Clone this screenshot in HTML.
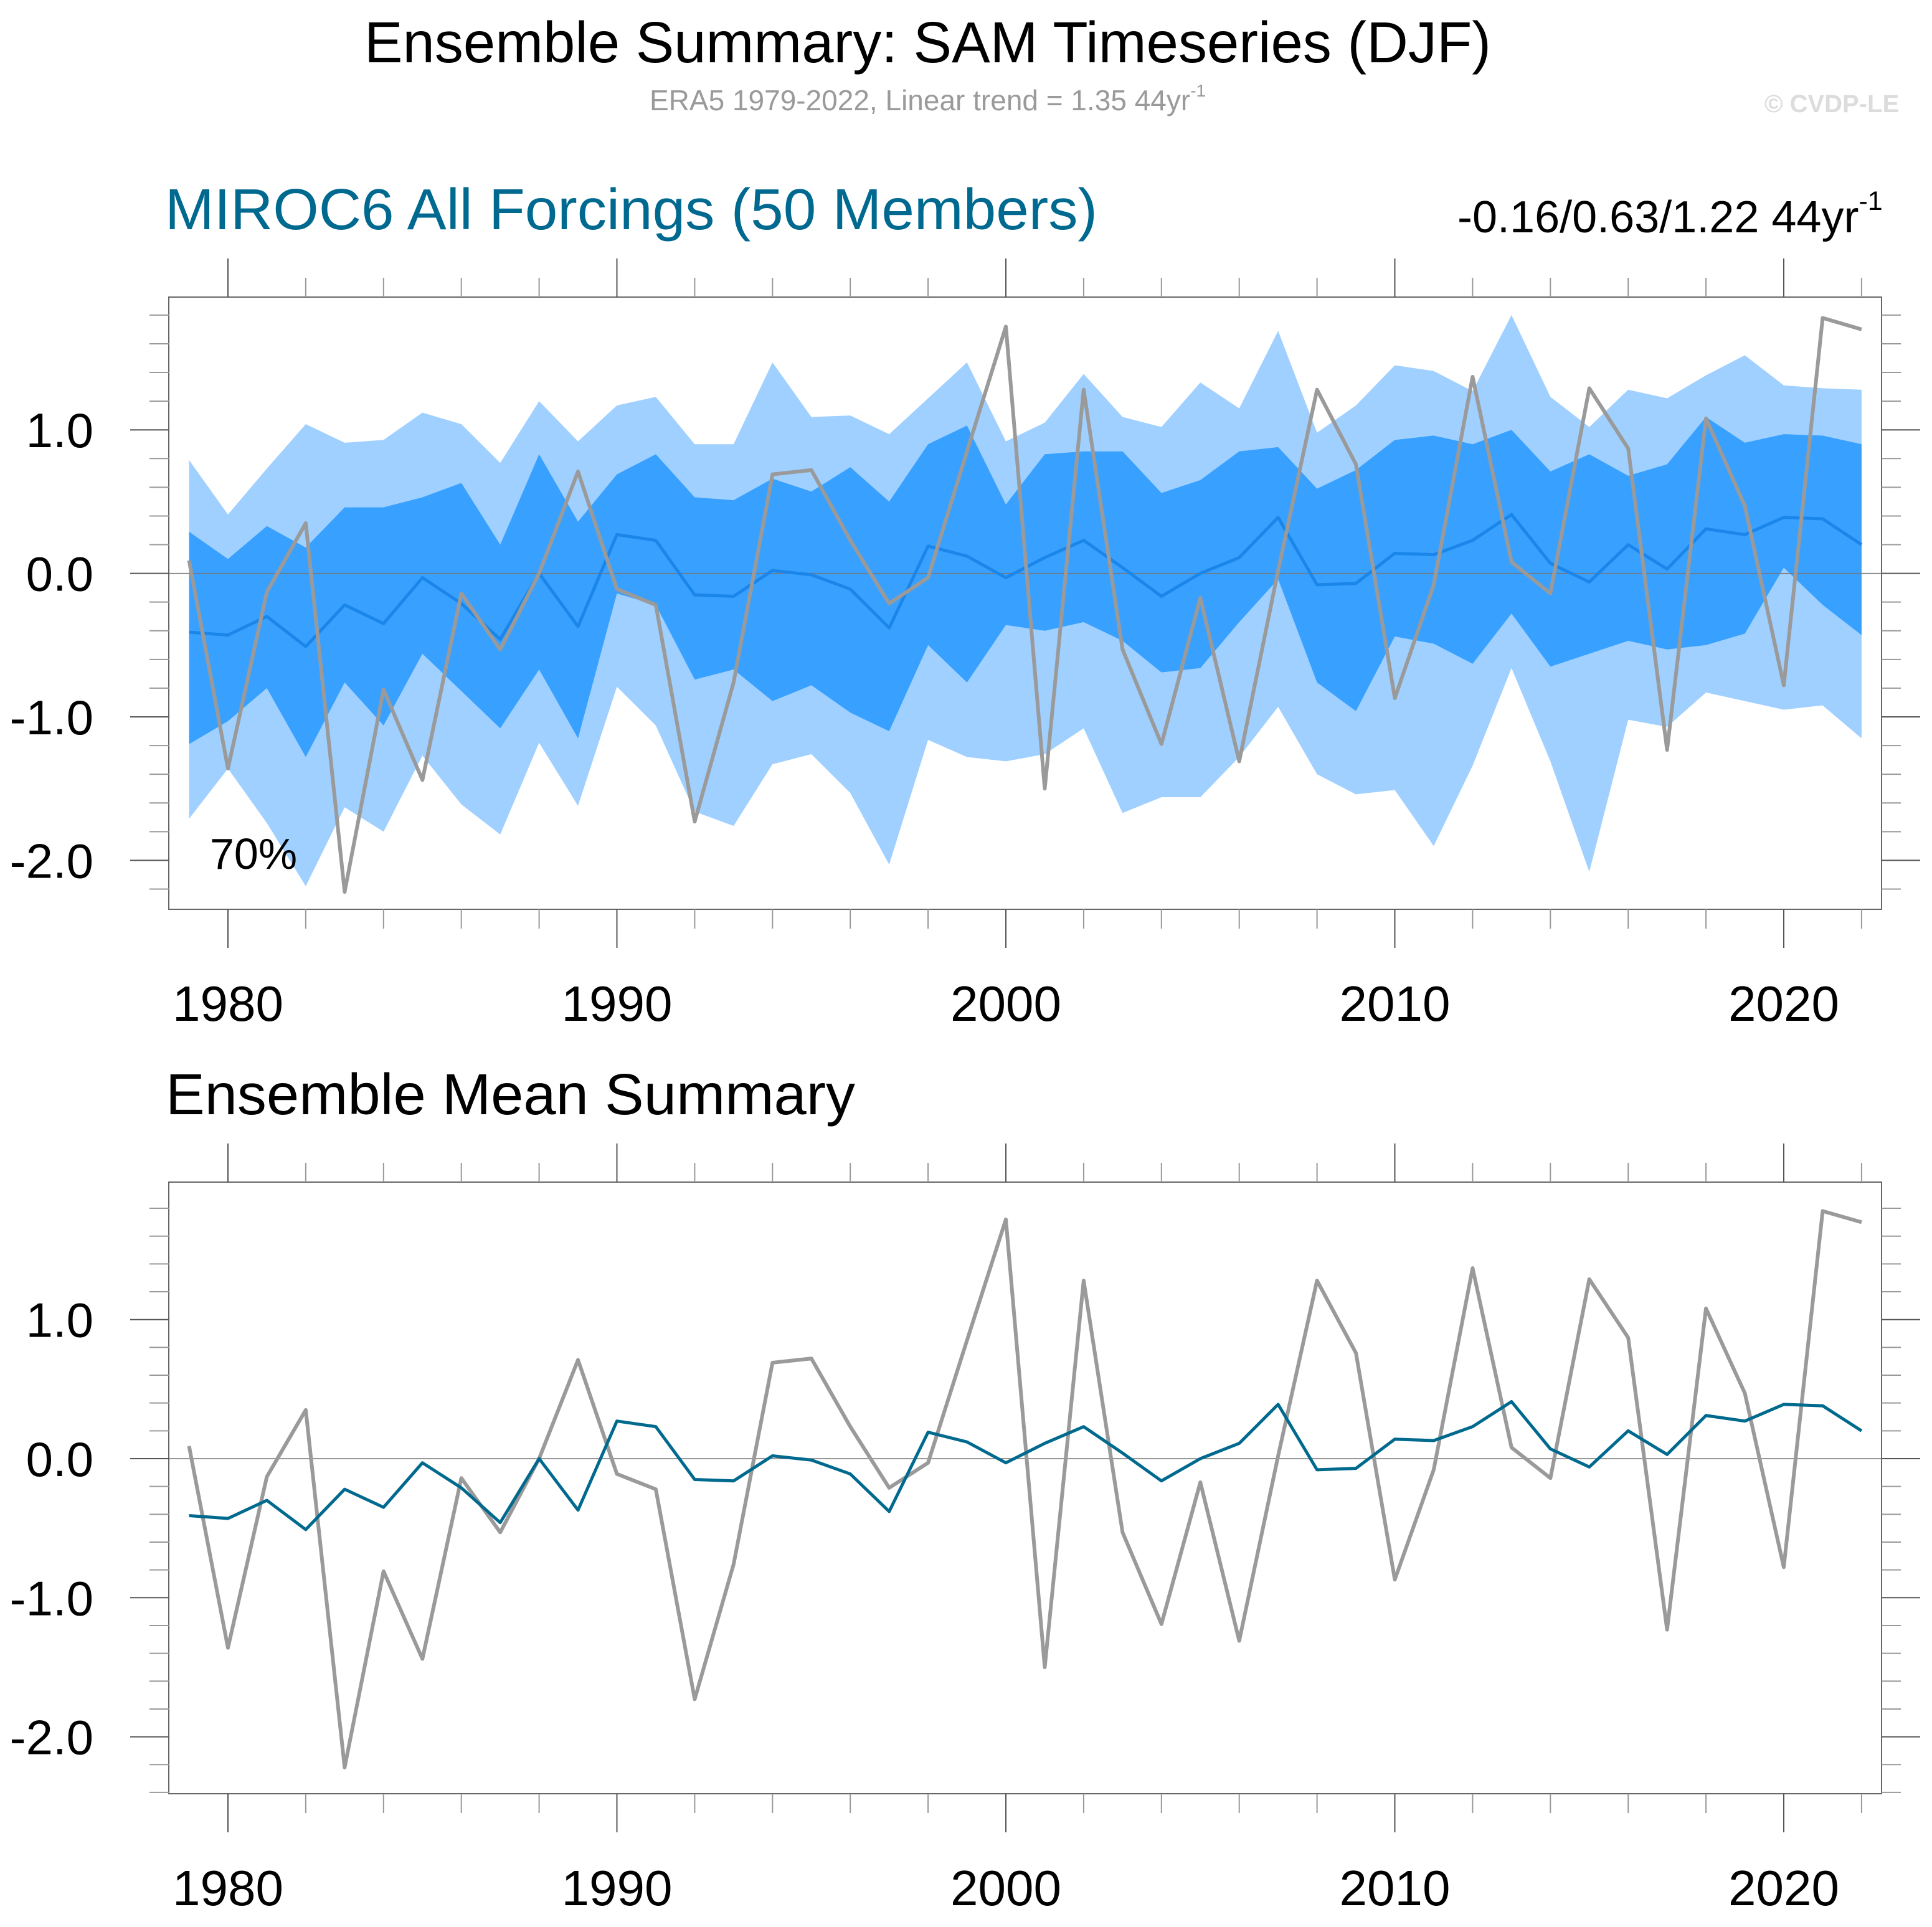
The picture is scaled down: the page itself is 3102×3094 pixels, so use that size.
<!DOCTYPE html>
<html><head><meta charset="utf-8"><style>
html,body{margin:0;padding:0;background:#fff;}
svg{display:block;font-family:"Liberation Sans",Arial,sans-serif;}
</style></head><body>
<svg id="chart" width="3102" height="3094" viewBox="0 0 3102 3094" xmlns="http://www.w3.org/2000/svg">
<text x="585" y="100" font-size="93" textLength="1809" lengthAdjust="spacingAndGlyphs">Ensemble Summary: SAM Timeseries (DJF)</text>
<text x="1043" y="177" font-size="46" fill="#9a9a9a">ERA5 1979-2022, Linear trend = 1.35 44yr<tspan font-size="28" dy="-22">-1</tspan></text>
<text x="2833" y="180" font-size="40" font-weight="bold" fill="#dcdcdc">© CVDP-LE</text>
<text x="265" y="368" font-size="93" fill="#00698f" textLength="1497" lengthAdjust="spacingAndGlyphs">MIROC6 All Forcings (50 Members)</text>
<text x="2340" y="373" font-size="72">-0.16/0.63/1.22 44yr<tspan font-size="43" dy="-36">-1</tspan></text>
<text x="266" y="1789" font-size="93" textLength="1107" lengthAdjust="spacingAndGlyphs">Ensemble Mean Summary</text>
<g id="p1"></g><g id="p2"></g>
</svg>
<script>
const years=[];for(let y=1979;y<=2022;y++)years.push(y);
const obs=[0.09,-1.36,-0.13,0.35,-2.22,-0.81,-1.44,-0.14,-0.53,0.0,0.71,-0.11,-0.22,-1.73,-0.76,0.69,0.72,0.23,-0.21,-0.03,0.85,1.72,-1.50,1.28,-0.53,-1.19,-0.17,-1.31,0.02,1.28,0.76,-0.87,-0.08,1.37,0.08,-0.14,1.29,0.87,-1.23,1.08,0.47,-0.78,1.78,1.70];
const ensMean=[-0.41,-0.43,-0.30,-0.51,-0.22,-0.35,-0.03,-0.21,-0.46,0.0,-0.37,0.27,0.23,-0.15,-0.16,0.02,-0.01,-0.11,-0.38,0.19,0.12,-0.03,0.11,0.23,0.04,-0.16,0.0,0.11,0.39,-0.08,-0.07,0.14,0.13,0.23,0.41,0.07,-0.06,0.20,0.03,0.31,0.27,0.39,0.38,0.20];
const upper2=[0.79,0.41,0.73,1.04,0.91,0.93,1.12,1.04,0.77,1.20,0.92,1.17,1.23,0.90,0.90,1.47,1.09,1.10,0.97,1.22,1.47,0.92,1.05,1.39,1.09,1.02,1.33,1.15,1.69,0.98,1.17,1.45,1.41,1.27,1.80,1.23,1.02,1.28,1.22,1.38,1.52,1.31,1.29,1.28];
const upper1=[0.29,0.10,0.33,0.18,0.46,0.46,0.53,0.63,0.20,0.83,0.36,0.69,0.83,0.53,0.51,0.66,0.57,0.74,0.50,0.90,1.03,0.48,0.83,0.85,0.85,0.56,0.65,0.85,0.88,0.59,0.72,0.93,0.96,0.90,1.00,0.71,0.83,0.68,0.76,1.09,0.91,0.97,0.96,0.90];
const lower1=[-1.19,-1.03,-0.80,-1.28,-0.76,-1.06,-0.56,-0.82,-1.08,-0.67,-1.15,-0.14,-0.22,-0.74,-0.67,-0.89,-0.78,-0.97,-1.10,-0.50,-0.76,-0.36,-0.40,-0.34,-0.47,-0.69,-0.66,-0.34,-0.04,-0.76,-0.96,-0.44,-0.49,-0.63,-0.28,-0.65,-0.56,-0.47,-0.53,-0.50,-0.42,0.04,-0.22,-0.43];
const lower2=[-1.71,-1.36,-1.74,-2.18,-1.63,-1.80,-1.27,-1.61,-1.82,-1.18,-1.62,-0.79,-1.06,-1.66,-1.76,-1.33,-1.26,-1.53,-2.03,-1.16,-1.28,-1.31,-1.26,-1.08,-1.67,-1.56,-1.56,-1.28,-0.93,-1.40,-1.54,-1.51,-1.90,-1.34,-0.66,-1.31,-2.08,-1.02,-1.07,-0.83,-0.89,-0.95,-0.92,-1.15];
const yTickLabels=["1.0","0.0","-1.0","-2.0"];
const yTickValues=[1,0,-1,-2];
const xTickLabels=["1980","1990","2000","2010","2020"];

const NS="http://www.w3.org/2000/svg";
const L=271,R=3021;
const xs=yr=>366+(yr-1980)*62.45;
function mk(parent,tag,attrs){const e=document.createElementNS(NS,tag);for(const k in attrs)e.setAttribute(k,attrs[k]);parent.appendChild(e);return e;}
function panel(g,top,bot,zeroY,unit,vmin,vmax,pname,bands){
  const ys=v=>zeroY-v*unit;
  const fr=mk(g,'rect',{x:L,y:top,width:R-L,height:bot-top,fill:'#fff',stroke:'none'});
  
  
  if(bands){
    const poly=(up,lo,col,nm)=>{
      let pts=years.map((y,i)=>xs(y)+','+ys(up[i]));
      for(let i=years.length-1;i>=0;i--)pts.push(xs(years[i])+','+ys(lo[i]));
      const p=mk(g,'polygon',{points:pts.join(' '),fill:col});
      
      
    };
    poly(upper2,lower2,'#9fd0ff','band-outer-range');
    poly(upper1,lower1,'#38a0ff','band-70-percent');
  }
  const z=mk(g,'line',{x1:L,x2:R,y1:zeroY,y2:zeroY,stroke:'#777','stroke-width':1.5});
  
  
  const line=(arr,col,w,nm)=>{
    const p=mk(g,'polyline',{points:years.map((y,i)=>xs(y)+','+ys(arr[i])).join(' '),fill:'none',stroke:col,'stroke-width':w,'stroke-linejoin':'round'});
    
    
  };
  if(bands){line(ensMean,'#1a86ea',5,'ensemble-mean-line');line(obs,'#9a9a9a',6,'era5-observed-line');}
  else{line(obs,'#9a9a9a',6,'era5-observed-line');line(ensMean,'#006a8e',5,'ensemble-mean-line');}
  const f=mk(g,'rect',{x:L,y:top,width:R-L,height:bot-top,fill:'none',stroke:'#666','stroke-width':2});
  
  
  for(let k=Math.ceil(vmin*5);k<=Math.floor(vmax*5);k++){
    const v=k/5,y=ys(v),maj=(k%5===0);
    const len=maj?62:31;
    mk(g,'line',{x1:L-len,x2:L,y1:y,y2:y,stroke:maj?'#555':'#999','stroke-width':2});
    mk(g,'line',{x1:R,x2:R+len,y1:y,y2:y,stroke:maj?'#555':'#999','stroke-width':2});
  }
  yTickValues.forEach((v,i)=>{
    const t=mk(g,'text',{x:150,y:ys(v)+28,'font-size':78,'text-anchor':'end'});
    t.textContent=yTickLabels[i];
    
    
  });
  for(let yr=1980;yr<=2022;yr+=2){
    const x=xs(yr),maj=(yr%10===0),len=maj?62:31;
    mk(g,'line',{x1:x,x2:x,y1:top-len,y2:top,stroke:maj?'#555':'#999','stroke-width':2});
    mk(g,'line',{x1:x,x2:x,y1:bot,y2:bot+len,stroke:maj?'#555':'#999','stroke-width':2});
  }
  xTickLabels.forEach(lb=>{
    const t=mk(g,'text',{x:xs(+lb),y:bot+179,'font-size':80,'text-anchor':'middle'});
    t.textContent=lb;
    
    
  });
}
panel(document.getElementById('p1'),477,1460,920.6,230.4,-2.34,1.93,'top',true);
const pct=document.createElementNS(NS,'text');
pct.setAttribute('x',337);pct.setAttribute('y',1395);pct.setAttribute('font-size',70);
pct.textContent='70%';


document.getElementById('p1').appendChild(pct);
panel(document.getElementById('p2'),1898,2880,2342,223.3,-2.42,1.99,'bottom',false);
</script>
</body></html>
